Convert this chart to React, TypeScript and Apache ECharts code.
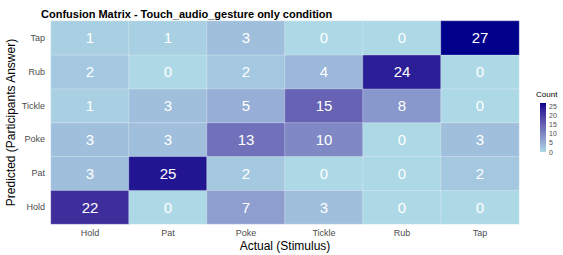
import React, { useEffect, useRef } from "react";
import * as echarts from "echarts";

const titleText = "Confusion Matrix - Touch_audio_gesture only condition";
const actualCats = ["Hold", "Pat", "Poke", "Tickle", "Rub", "Tap"];
const predictedCats = ["Hold", "Pat", "Poke", "Tickle", "Rub", "Tap"];
// rows indexed by predicted (bottom to top), columns by actual
const rowHold = [22, 0, 7, 3, 0, 0];
const rowPat = [3, 25, 2, 0, 0, 2];
const rowPoke = [3, 3, 13, 10, 0, 3];
const rowTickle = [1, 3, 5, 15, 8, 0];
const rowRub = [2, 0, 2, 4, 24, 0];
const rowTap = [1, 1, 3, 0, 0, 27];
const rows = [rowHold, rowPat, rowPoke, rowTickle, rowRub, rowTap];
const legendMin = 0;
const legendMax = 27;
const legendInterval = 5;

const LOW = "#ADD8E6";
const HIGH = "#00008B";

function hexToRgb(h: string) {
  const n = parseInt(h.slice(1), 16);
  return [(n >> 16) & 255, (n >> 8) & 255, n & 255];
}
function toLin(c: number) {
  c /= 255;
  return c <= 0.04045 ? c / 12.92 : Math.pow((c + 0.055) / 1.055, 2.4);
}
function fromLin(c: number) {
  const v = c <= 0.0031308 ? 12.92 * c : 1.055 * Math.pow(c, 1 / 2.4) - 0.055;
  return Math.max(0, Math.min(255, Math.round(v * 255)));
}
const Xn = 0.95047, Yn = 1.0, Zn = 1.08883;
function f(t: number) {
  return t > 216 / 24389 ? Math.cbrt(t) : (24389 / 27 * t + 16) / 116;
}
function finv(t: number) {
  return t * t * t > 216 / 24389 ? t * t * t : (116 * t - 16) / (24389 / 27);
}
function rgbToLab(rgb: number[]) {
  const [r, g, b] = rgb.map(toLin);
  const X = 0.4124 * r + 0.3576 * g + 0.1805 * b;
  const Y = 0.2126 * r + 0.7152 * g + 0.0722 * b;
  const Z = 0.0193 * r + 0.1192 * g + 0.9505 * b;
  const fx = f(X / Xn), fy = f(Y / Yn), fz = f(Z / Zn);
  return [116 * fy - 16, 500 * (fx - fy), 200 * (fy - fz)];
}
function labToHex(lab: number[]) {
  const fy = (lab[0] + 16) / 116;
  const fx = fy + lab[1] / 500;
  const fz = fy - lab[2] / 200;
  const X = finv(fx) * Xn, Y = finv(fy) * Yn, Z = finv(fz) * Zn;
  const r = 3.2406 * X - 1.5372 * Y - 0.4986 * Z;
  const g = -0.9689 * X + 1.8758 * Y + 0.0415 * Z;
  const b = 0.0557 * X - 0.204 * Y + 1.057 * Z;
  return "#" + [r, g, b].map(fromLin).map((v) => v.toString(16).padStart(2, "0")).join("");
}
const labLow = rgbToLab(hexToRgb(LOW));
const labHigh = rgbToLab(hexToRgb(HIGH));
const NSTOPS = 24;
const rampColors: string[] = [];
for (let i = 0; i <= NSTOPS; i++) {
  const t = i / NSTOPS;
  rampColors.push(labToHex(labLow.map((v, k) => v + (labHigh[k] - v) * t)));
}

export default function App() {
  const ref = useRef<HTMLDivElement>(null);
  useEffect(() => {
    if (!ref.current) return;
    const chart = echarts.init(ref.current, undefined, { renderer: "svg" });
    const data: number[][] = [];
    rows.forEach((row, yi) => row.forEach((v, xi) => data.push([xi, yi, v])));
    const axisLabelColor = "#4D4D4D";
    chart.setOption({
      animation: false,
      backgroundColor: "#ffffff",
      textStyle: { fontFamily: "Liberation Sans, Arial, sans-serif" },
      title: {
        text: titleText,
        left: 36,
        top: 3,
        textStyle: { fontSize: 11, fontWeight: "bold", color: "#000" },
      },
      grid: [
        { left: 51, right: 44, top: 21, bottom: 31, containLabel: false, outerBoundsMode: "none" },
        { left: 540, width: 6, top: 103, height: 49, containLabel: false, outerBoundsMode: "none" },
      ],
      xAxis: [
        {
          type: "category",
          gridIndex: 0,
          data: actualCats,
          name: "Actual (Stimulus)",
          nameLocation: "middle",
          nameGap: 15,
          nameMoveOverlap: false,
          nameTextStyle: { fontSize: 12, color: "#000", lineHeight: 13 },
          axisLine: { show: false },
          axisTick: { show: false },
          axisLabel: { fontSize: 9, color: axisLabelColor, margin: 4, lineHeight: 10 },
          splitLine: { show: false },
        },
        {
          type: "category",
          gridIndex: 1,
          data: ["c"],
          show: false,
        },
      ],
      yAxis: [
        {
          type: "category",
          gridIndex: 0,
          data: predictedCats,
          name: "Predicted (Participants Answer)",
          nameLocation: "middle",
          nameGap: 34,
          nameMoveOverlap: false,
          nameTextStyle: { fontSize: 12, color: "#000" },
          axisLine: { show: false },
          axisTick: { show: false },
          axisLabel: { fontSize: 9, color: axisLabelColor, margin: 6 },
          splitLine: { show: false },
        },
        {
          type: "value",
          gridIndex: 1,
          min: legendMin,
          max: legendMax,
          interval: legendInterval,
          position: "right",
          name: "Count",
          nameLocation: "end",
          nameGap: 5,
          nameMoveOverlap: false,
          nameTextStyle: { fontSize: 8, color: "#000", align: "left", padding: [0, 0, 0, -10] },
          axisLine: { show: false },
          axisTick: {
            show: true,
            inside: true,
            length: 2,
            lineStyle: { color: "rgba(255,255,255,0.8)", width: 0.6 },
          },
          axisLabel: { fontSize: 7, color: axisLabelColor, margin: 3 },
          splitLine: { show: false },
        },
      ],
      visualMap: {
        show: false,
        min: legendMin,
        max: legendMax,
        seriesIndex: 0,
        dimension: 2,
        inRange: { color: rampColors },
      },
      series: [
        {
          type: "heatmap",
          xAxisIndex: 0,
          yAxisIndex: 0,
          data,
          label: {
            show: true,
            color: "#ffffff",
            fontSize: 15,
            fontFamily: "Liberation Sans, Arial, sans-serif",
          },
          itemStyle: { borderColor: "rgba(255,255,255,0.45)", borderWidth: 0.6 },
        },
        {
          type: "bar",
          xAxisIndex: 1,
          yAxisIndex: 1,
          data: [legendMax],
          barWidth: "100%",
          silent: true,
          itemStyle: {
            color: new echarts.graphic.LinearGradient(
              0,
              1,
              0,
              0,
              rampColors.map((c, i) => ({ offset: i / NSTOPS, color: c }))
            ),
          },
        },
      ],
    });
    return () => chart.dispose();
  }, []);
  return (
    <div
      ref={ref}
      style={{ position: "fixed", left: 0, top: 0, width: 563, height: 255 }}
    />
  );
}
